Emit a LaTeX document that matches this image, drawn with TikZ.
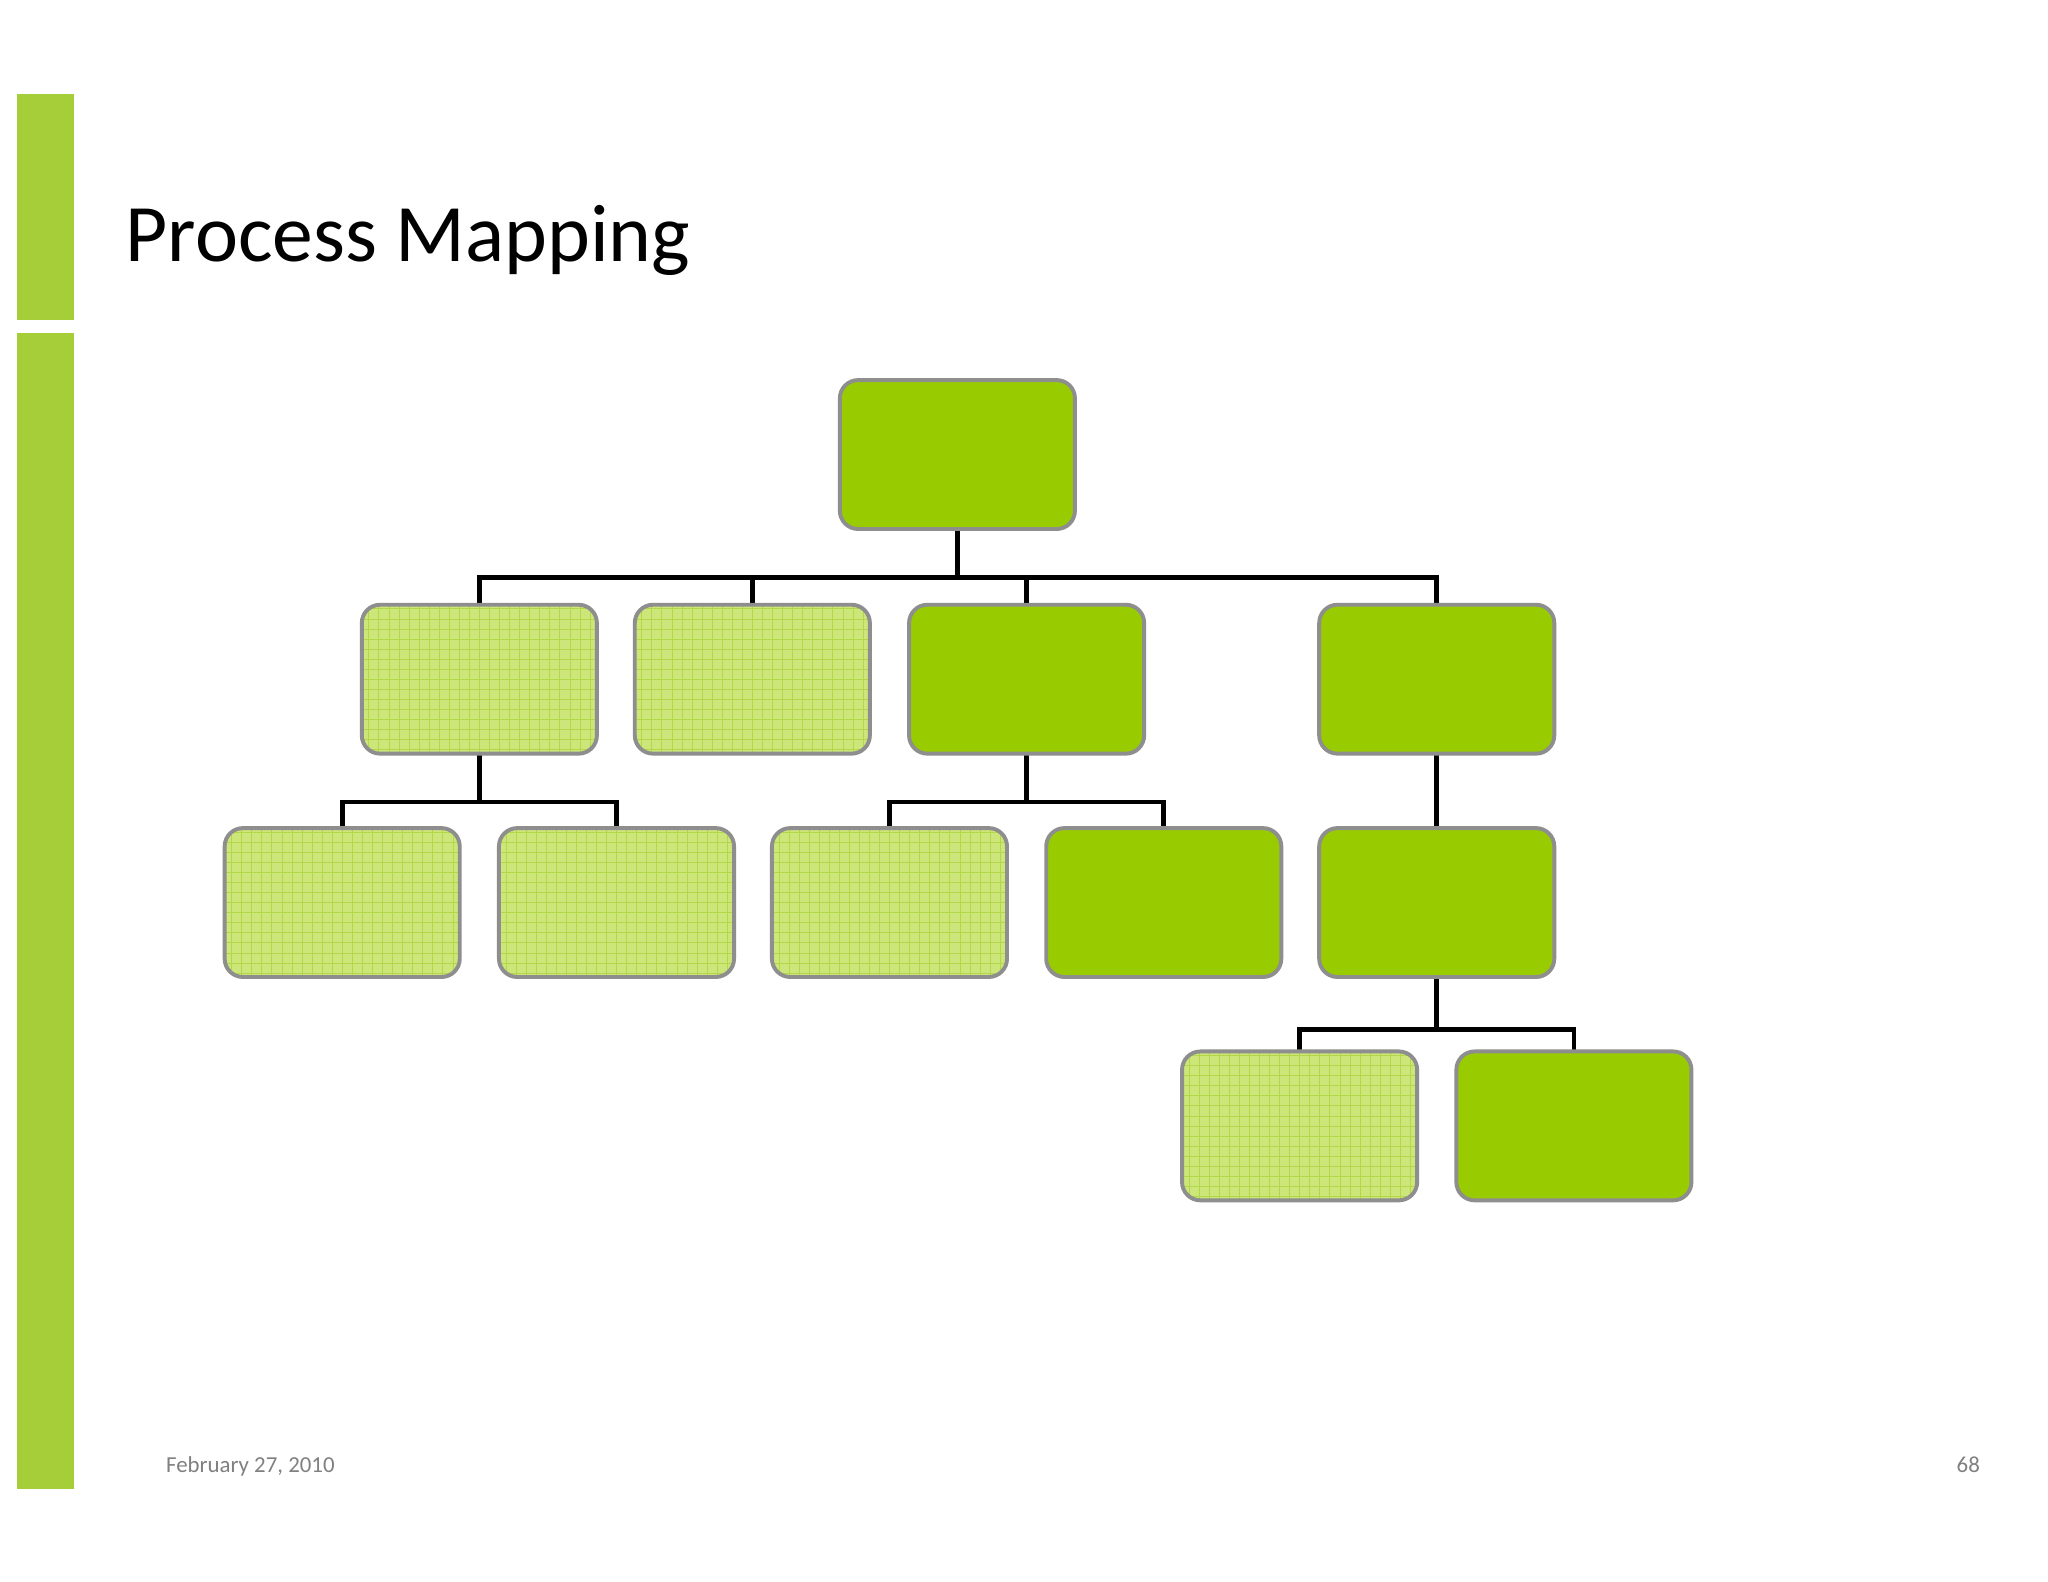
\documentclass[tikz,border=0pt]{standalone}
\usepackage{fontspec}
\setmainfont{Carlito}
\definecolor{bar}{HTML}{A6CE39}
\definecolor{dk}{HTML}{99CC00}
\definecolor{lt}{HTML}{CDE67A}
\definecolor{gridc}{HTML}{B2D84A}
\definecolor{bord}{HTML}{8E8E8E}
\begin{document}
\begin{tikzpicture}[x=1pt,y=-1pt,
  bx/.style={draw=bord,line width=3pt,rounded corners=14pt,minimum width=180pt,minimum height=114pt,inner sep=0pt},
  dkbox/.style={bx,fill=dk},
  ltbox/.style={bx,fill=lt,path picture={\draw[gridc,line width=0.5pt,step=7.7pt] (path picture bounding box.south west) grid (path picture bounding box.north east);}},
  con/.style={line width=3.6pt,black}]
\useasboundingbox (0,0) rectangle (1568,1211);
\fill[white] (0,0) rectangle (1568,1211);
\fill[bar] (13,72) rectangle (57,245);
\fill[bar] (13,255) rectangle (57,1140);
\node[anchor=base west,font=\fontsize{62.5}{70}\selectfont,inner sep=0pt] (title) at (96,200) {Process Mapping};
\node[anchor=base west,font=\fontsize{17.5}{20}\selectfont,text=gray,inner sep=0pt] (date) at (127,1127) {February 27, 2010};
\node[anchor=base east,font=\fontsize{17.5}{20}\selectfont,text=gray,inner sep=0pt] (pg) at (1516,1127) {68};
\draw[con] (733,400) -- (733,442);
\draw[con] (367,470) |- (733,442) -| (1100,470);
\draw[con] (576,470) -- (576,442);
\draw[con] (786,470) -- (786,442);
\draw[con] (367,570) -- (367,614);
\draw[con] (262,640) |- (472,614) -- (472,640);
\draw[con] (786,570) -- (786,614);
\draw[con] (681,640) |- (891,614) -- (891,640);
\draw[con] (1100,570) -- (1100,640);
\draw[con] (1100,740) -- (1100,788);
\draw[con] (995,810) |- (1205,788) -- (1205,810);
\node[dkbox] (top) at (733,348) {};
\node[ltbox] (a1) at (367,520) {};
\node[ltbox] (a2) at (576,520) {};
\node[dkbox] (a3) at (786,520) {};
\node[dkbox] (a4) at (1100,520) {};
\node[ltbox] (c1) at (262,691) {};
\node[ltbox] (c2) at (472,691) {};
\node[ltbox] (c3) at (681,691) {};
\node[dkbox] (c4) at (891,691) {};
\node[dkbox] (c5) at (1100,691) {};
\node[ltbox] (d1) at (995,862) {};
\node[dkbox] (d2) at (1205,862) {};
\end{tikzpicture}
\end{document}
